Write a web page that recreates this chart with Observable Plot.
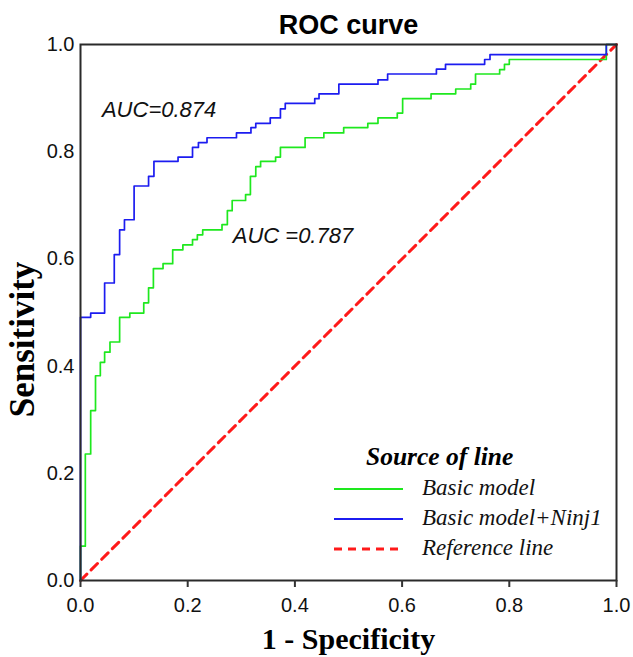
<!DOCTYPE html>
<html>
<head>
<meta charset="utf-8">
<script src="https://cdn.jsdelivr.net/npm/d3@7"></script>
<script src="https://cdn.jsdelivr.net/npm/@observablehq/plot@0.6"></script>
<style>
  html, body { margin: 0; padding: 0; background: #fff; }
  #chart { width: 633px; height: 657px; }
</style>
</head>
<body>
<div id="chart"></div>
<script>
// ---- data ----
const basicFpr = [0, 0, 0.009, 0.019, 0.028, 0.037, 0.045, 0.055, 0.073, 0.092, 0.118, 0.127, 0.136, 0.154, 0.172, 0.191, 0.209, 0.218, 0.228, 0.264, 0.274, 0.283, 0.308, 0.317, 0.327, 0.336, 0.364, 0.373, 0.419, 0.454, 0.491, 0.536, 0.555, 0.591, 0.601, 0.654, 0.700, 0.728, 0.737, 0.782, 0.791, 0.800, 0.981, 1.0];
const basicTpr = [0, 0.064, 0.236, 0.317, 0.382, 0.407, 0.426, 0.445, 0.491, 0.499, 0.518, 0.546, 0.582, 0.591, 0.617, 0.626, 0.636, 0.645, 0.654, 0.664, 0.690, 0.709, 0.720, 0.754, 0.772, 0.782, 0.790, 0.808, 0.826, 0.835, 0.845, 0.853, 0.863, 0.872, 0.899, 0.908, 0.917, 0.926, 0.945, 0.953, 0.963, 0.972, 1.0, 1.0];

const ninjFpr = [0, 0, 0.019, 0.045, 0.063, 0.073, 0.082, 0.100, 0.127, 0.137, 0.182, 0.209, 0.220, 0.236, 0.291, 0.318, 0.327, 0.354, 0.373, 0.382, 0.437, 0.445, 0.482, 0.555, 0.573, 0.664, 0.681, 0.754, 0.764, 0.981, 1.0];
const ninjTpr = [0, 0.491, 0.499, 0.555, 0.608, 0.654, 0.673, 0.736, 0.754, 0.782, 0.790, 0.808, 0.817, 0.826, 0.835, 0.845, 0.853, 0.863, 0.880, 0.890, 0.899, 0.908, 0.926, 0.934, 0.945, 0.954, 0.963, 0.972, 0.981, 1.0, 1.0];

const refX = [0, 1];
const refY = [0, 1];

const aucLabels = ["AUC=0.874", "AUC =0.787"];
const aucX = [0.040, 0.284];
const aucY = [0.878, 0.642];

const xTicks = [0, 0.2, 0.4, 0.6, 0.8, 1.0];
const yTicks = [0, 0.2, 0.4, 0.6, 0.8, 1.0];

const seriesNames = ["Basic model", "Basic model+Ninj1", "Reference line"];
const seriesColors = ["#1ee81e", "#1c1cf0", "#ff1a1a"];

const titleText = "ROC curve";
const xLabel = "1 - Specificity";
const yLabel = "Sensitivity";
const legendTitle = "Source of line";

// ---- tables built from arrays ----
const basic = basicFpr.map((x, i) => ({x, y: basicTpr[i]}));
const ninj = ninjFpr.map((x, i) => ({x, y: ninjTpr[i]}));
const ref = refX.map((x, i) => ({x, y: refY[i]}));
const auc = aucLabels.map((t, i) => ({t, x: aucX[i], y: aucY[i]}));

const sans = "'Liberation Sans', Arial, sans-serif";
const serif = "'Liberation Serif', 'Times New Roman', serif";

const chart = Plot.plot({
  width: 633,
  height: 657,
  marginLeft: 80,
  marginRight: 17,
  marginTop: 44,
  marginBottom: 77,
  style: {fontFamily: sans, background: "#fff", color: "#111"},
  x: {domain: [0, 1]},
  y: {domain: [0, 1]},
  marks: [
    Plot.line(ref, {x: "x", y: "y", stroke: seriesColors[2], strokeWidth: 3, strokeDasharray: "9,6"}),
    Plot.line(basic, {x: "x", y: "y", curve: "step-after", stroke: seriesColors[0], strokeWidth: 1.7}),
    Plot.line(ninj, {x: "x", y: "y", curve: "step-after", stroke: seriesColors[1], strokeWidth: 1.7}),
    Plot.frame({stroke: "#2a2a2a", strokeWidth: 2}),
    Plot.axisX({ticks: xTicks, tickFormat: d3.format(".1f"), tickSize: 7, tickPadding: 10, fontSize: 20, label: null, stroke: "#333", strokeWidth: 2}),
    Plot.axisY({ticks: yTicks, tickFormat: d3.format(".1f"), tickSize: 0, tickPadding: 6, fontSize: 20, label: null}),
    Plot.text(auc, {x: "x", y: "y", text: "t", textAnchor: "start", lineAnchor: "middle", fontSize: 22, fontStyle: "italic", fill: "#111"}),
    Plot.text([titleText], {frameAnchor: "top", textAnchor: "middle", lineAnchor: "bottom", dy: -11, fontSize: 27, fontWeight: "bold", fill: "#000"}),
    Plot.text([xLabel], {frameAnchor: "bottom", textAnchor: "middle", lineAnchor: "bottom", dy: 68, fontSize: 30, fontWeight: "bold", fontFamily: serif, fill: "#000"}),
    Plot.text([yLabel], {frameAnchor: "left", textAnchor: "middle", rotate: -90, lineAnchor: "bottom", dx: -47, dy: 27, fontSize: 35, fontWeight: "bold", fontFamily: serif, fill: "#000"})
  ]
});

// ---- legend (layout only) ----
const svg = d3.select(chart);
const lg = svg.append("g").attr("font-family", serif).attr("text-anchor", "start");
lg.append("text").attr("x", 366).attr("y", 465).attr("font-size", 25.5).attr("font-weight", "bold").attr("font-style", "italic").attr("fill", "#000").text(legendTitle);
seriesNames.forEach((name, i) => {
  const yy = 495 + i * 30;
  lg.append("line").attr("x1", 334).attr("x2", 403).attr("y1", yy - 6).attr("y2", yy - 6)
    .attr("stroke", seriesColors[i]).attr("stroke-width", i === 2 ? 3 : 2)
    .attr("stroke-dasharray", i === 2 ? "8,6" : null);
  lg.append("text").attr("x", 422).attr("y", yy).attr("font-size", 23).attr("font-style", "italic").attr("fill", "#111").text(name);
});

document.getElementById("chart").appendChild(chart);
</script>
</body>
</html>
